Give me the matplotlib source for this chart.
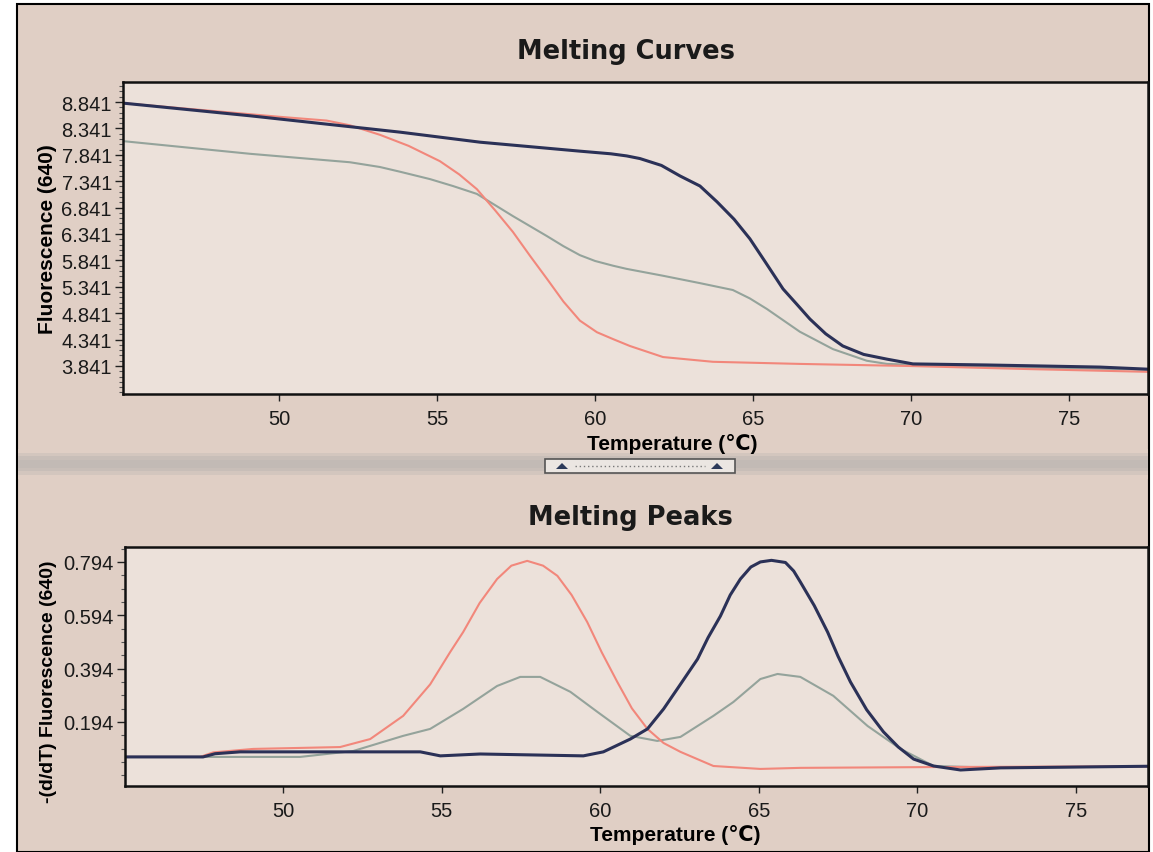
import numpy as np
import matplotlib.pyplot as plt
from matplotlib.patches import Rectangle, Polygon
from matplotlib.lines import Line2D
from matplotlib.colors import LinearSegmentedColormap
from matplotlib.ticker import FixedLocator

# ---- data ----
# Melting curves (fluorescence vs temperature)
blue_t = [45.06, 49.08, 53.83, 56.36, 59.52, 60.50, 61.00, 61.42, 62.10, 62.69, 63.32, 63.86,
          64.40, 64.90, 65.40, 65.95, 66.40, 66.80, 67.30, 67.84, 68.50, 69.24, 70.06, 72.40,
          75.98, 77.50]
blue_f = [8.82, 8.58, 8.27, 8.08, 7.91, 7.86, 7.82, 7.77, 7.64, 7.44, 7.25, 6.95,
          6.62, 6.25, 5.80, 5.30, 5.00, 4.73, 4.45, 4.22, 4.06, 3.97, 3.88, 3.86,
          3.82, 3.78]

red_t = [45.06, 50.03, 51.50, 52.24, 53.19, 54.10, 55.09, 55.70, 56.26, 56.85, 57.40, 57.95,
         58.48, 59.00, 59.52, 60.06, 60.57, 61.10, 62.15, 63.73, 66.48, 69.97, 73.86, 77.50]
red_f = [8.82, 8.56, 8.49, 8.40, 8.22, 8.01, 7.72, 7.47, 7.19, 6.78, 6.38, 5.92,
         5.49, 5.06, 4.70, 4.48, 4.35, 4.22, 4.01, 3.92, 3.88, 3.84, 3.78, 3.73]

gray_t = [45.06, 49.08, 52.24, 53.19, 53.83, 54.78, 55.50, 56.26, 57.40, 58.48, 59.00, 59.52,
          60.00, 60.57, 61.00, 62.15, 63.32, 64.36, 64.90, 65.44, 66.48, 67.53, 68.60, 69.24,
          71.23, 77.50]
gray_f = [8.10, 7.86, 7.70, 7.61, 7.52, 7.38, 7.25, 7.10, 6.68, 6.30, 6.11, 5.94,
          5.83, 5.74, 5.68, 5.55, 5.41, 5.28, 5.12, 4.92, 4.49, 4.16, 3.94, 3.88,
          3.84, 3.77]

# Melting peaks (-dF/dT vs temperature)
red_pt = [45.02, 47.39, 47.80, 49.06, 51.80, 52.75, 53.79, 54.64, 55.27, 55.68, 56.20,
          56.75, 57.20, 57.70, 58.20, 58.65, 59.10, 59.59, 60.05, 60.54, 61.00, 61.49,
          62.00, 62.53, 63.57, 65.05, 66.31, 70.51, 77.26]
red_pd = [0.063, 0.063, 0.080, 0.093, 0.100, 0.130, 0.217, 0.335, 0.456, 0.531, 0.640,
          0.730, 0.780, 0.798, 0.780, 0.742, 0.670, 0.569, 0.455, 0.344, 0.245, 0.168,
          0.115, 0.082, 0.029, 0.018, 0.022, 0.025, 0.028]

gray_pt = [45.02, 48.96, 50.54, 52.21, 53.79, 54.64, 55.68, 56.75, 57.48, 58.11, 59.06,
           59.91, 60.95, 61.80, 62.53, 63.57, 64.20, 65.05, 65.59, 66.31, 67.35, 68.43,
           69.47, 70.51, 72.62, 77.26]
gray_pd = [0.063, 0.063, 0.063, 0.085, 0.142, 0.168, 0.243, 0.329, 0.363, 0.363, 0.307,
           0.232, 0.142, 0.123, 0.138, 0.217, 0.269, 0.355, 0.374, 0.363, 0.292, 0.179,
           0.093, 0.029, 0.022, 0.028]

blue_pt = [45.02, 47.48, 47.86, 48.65, 54.33, 54.96, 56.22, 59.47, 60.10, 60.95, 61.49,
           62.00, 62.50, 63.07, 63.40, 63.79, 64.10, 64.42, 64.75, 65.05, 65.40, 65.84,
           66.10, 66.31, 66.75, 67.17, 67.50, 67.89, 68.40, 68.93, 69.40, 69.88, 70.51,
           71.36, 72.62, 77.26]
blue_pd = [0.063, 0.063, 0.075, 0.082, 0.082, 0.067, 0.074, 0.067, 0.082, 0.130, 0.168,
           0.243, 0.330, 0.430, 0.510, 0.591, 0.670, 0.730, 0.775, 0.794, 0.800, 0.792,
           0.760, 0.719, 0.630, 0.531, 0.440, 0.344, 0.240, 0.157, 0.100, 0.055, 0.029,
           0.014, 0.022, 0.028]

x_ticks = [50, 55, 60, 65, 70, 75]
curve_yticks = [3.841, 4.341, 4.841, 5.341, 5.841, 6.341, 6.841, 7.341, 7.841, 8.341, 8.841]
peak_yticks = [0.194, 0.394, 0.594, 0.794]

# ---- styling ----
W, H = 1153, 853
BG = '#e0cfc5'
AX_BG = '#ece1da'
C_BLUE = '#2b3157'
C_RED = '#f2877b'
C_GRAY = '#94a39b'
TICK_FONT = ['Liberation Sans', 'DejaVu Sans']
TITLE_FONT = 'DejaVu Sans'


def frect(x0, y0, x1, y1):
    # pixel box (top-left origin) -> figure fraction [l, b, w, h]
    return [x0 / W, 1 - y1 / H, (x1 - x0) / W, (y1 - y0) / H]


fig = plt.figure(figsize=(W / 100, H / 100), dpi=100)
fig.patch.set_facecolor('white')

# screen area with border
r = frect(17, 5, 1149, 853)
fig.patches.append(Rectangle((r[0], r[1]), r[2], r[3], transform=fig.transFigure,
                             facecolor=BG, edgecolor='black', lw=1.5, zorder=-3))

# splitter band between the two panels
band = fig.add_axes(frect(18, 450, 1148, 480), zorder=-2)
grad = np.array([0.0, 0.4, 0.8, 1.0, 1.0, 0.8, 0.4, 0.0])[:, None]
band.imshow(grad, aspect='auto', extent=[0, 1, 0, 1],
            cmap=LinearSegmentedColormap.from_list('band', [BG, '#c2bab5']))
band.axis('off')

# splitter button
b = frect(545, 460, 735, 474)
fig.patches.append(Rectangle((b[0], b[1]), b[2], b[3], transform=fig.transFigure,
                             facecolor='#ebe6e2', edgecolor='#555555', lw=1.2, zorder=3))
for cx in (562, 717):
    tri = [(cx - 6, 470), (cx + 6, 470), (cx, 464)]
    fig.patches.append(Polygon([(px / W, 1 - py / H) for px, py in tri], closed=True,
                               transform=fig.transFigure, facecolor='#2c3a5a',
                               edgecolor='none', zorder=4))
fig.lines.append(Line2D([575 / W, 705 / W], [1 - 467 / H, 1 - 467 / H],
                        transform=fig.transFigure, color='#777777', lw=1,
                        linestyle=(0, (1, 2)), zorder=4))


def style_axes(ax, yticks, fmt, minor_step):
    ax.set_facecolor(AX_BG)
    for s in ax.spines.values():
        s.set_linewidth(1.8)
        s.set_color('#111111')
    ax.set_xticks(x_ticks)
    ax.set_xticklabels([str(t) for t in x_ticks], fontsize=14.5, family=TICK_FONT)
    ax.set_yticks(yticks)
    ax.set_yticklabels([fmt.format(v) for v in yticks], fontsize=14.5, family=TICK_FONT)
    lo, hi = ax.get_ylim()
    minors = np.arange(yticks[0] - 10 * minor_step, hi, minor_step)
    ax.yaxis.set_minor_locator(FixedLocator(minors[minors > lo]))
    ax.tick_params(axis='both', which='major', direction='out', length=6, width=1,
                   pad=2, colors='#222222', labelcolor='#1a1a1a')
    ax.tick_params(axis='y', which='minor', direction='out', length=3, width=0.8,
                   colors='#555555')
    ax.tick_params(axis='x', which='major', length=5, pad=6)


# ---- top panel: melting curves ----
ax1 = fig.add_axes(frect(123, 83, 1148, 395), zorder=1)
ax1.plot(gray_t, gray_f, color=C_GRAY, lw=1.5)
ax1.plot(red_t, red_f, color=C_RED, lw=1.5)
ax1.plot(blue_t, blue_f, color=C_BLUE, lw=2.2)
ax1.set_xlim(45.06, 77.5)
ax1.set_ylim(3.31, 9.22)
style_axes(ax1, curve_yticks, '{:.3f}', 0.1)
ax1.set_ylabel('Fluorescence (640)', fontsize=15, fontweight='bold', family=TICK_FONT)
ax1.set_xlabel('Temperature (\u2103)', fontsize=15, fontweight='bold', family=TICK_FONT)
ax1.yaxis.set_label_coords(-0.064, 0.5)
ax1.xaxis.set_label_coords((672 - 123) / (1148 - 123), -0.125)
fig.text(626 / W, 1 - 52 / H, 'Melting Curves', ha='center', va='center',
         fontsize=18.5, fontweight='bold', family=TITLE_FONT, color='#1a1a1a')

# ---- bottom panel: melting peaks ----
ax2 = fig.add_axes(frect(125, 548, 1148, 787), zorder=1)
ax2.plot(gray_pt, gray_pd, color=C_GRAY, lw=1.5)
ax2.plot(red_pt, red_pd, color=C_RED, lw=1.5)
ax2.plot(blue_pt, blue_pd, color=C_BLUE, lw=2.2)
ax2.set_xlim(45.02, 77.27)
ax2.set_ylim(-0.046, 0.85)
style_axes(ax2, peak_yticks, '{:.3f}', 0.05)
ax2.set_ylabel('-(d/dT) Fluorescence (640)', fontsize=14, fontweight='bold', family=TICK_FONT)
ax2.set_xlabel('Temperature (\u2103)', fontsize=15, fontweight='bold', family=TICK_FONT)
ax2.yaxis.set_label_coords(-0.066, 0.44)
ax2.xaxis.set_label_coords((675 - 125) / (1148 - 125), -0.16)
fig.text(630 / W, 1 - 518 / H, 'Melting Peaks', ha='center', va='center',
         fontsize=18.5, fontweight='bold', family=TITLE_FONT, color='#1a1a1a')

fig.savefig('out.png', dpi=100, facecolor=fig.get_facecolor())
